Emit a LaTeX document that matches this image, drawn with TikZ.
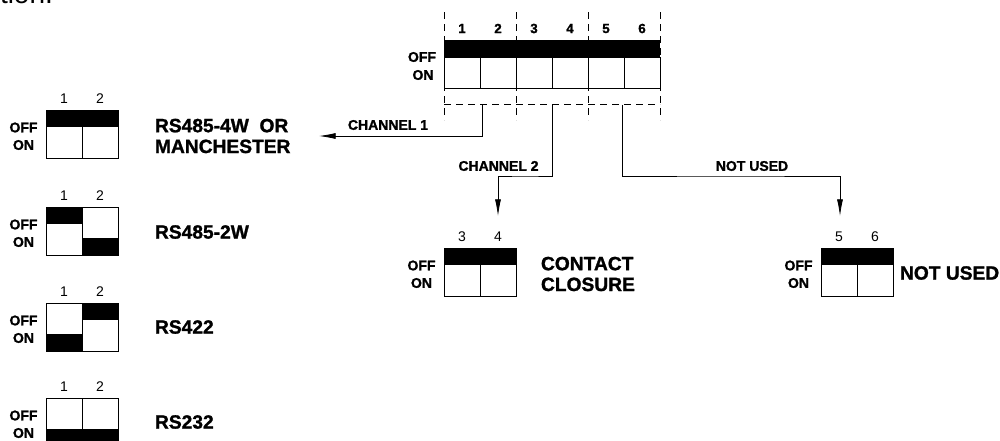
\documentclass[tikz,border=0pt]{standalone}
\usepackage{fontspec}
\setmainfont{Liberation Sans}[BoldFeatures={FakeBold=1.3}]
\usetikzlibrary{positioning,arrows.meta}

\begin{document}
\begin{tikzpicture}[
    x=0.75pt, y=-0.75pt,
    every node/.style={inner sep=0pt, outer sep=0pt},
    state/.style={font=\bfseries\fontsize{10.5}{12}\selectfont},
    num/.style={font=\fontsize{10.5}{12}\selectfont},
    topnum/.style={font=\bfseries\fontsize{10}{12}\selectfont},
    mode/.style={font=\bfseries\fontsize{14.4}{15.6}\selectfont, anchor=west},
    chan/.style={font=\bfseries\fontsize{10.5}{12}\selectfont},
    arrow/.style={-{Latex[length=12.5pt, width=4.5pt]}, line width=0.6pt},
    cell/.style={draw, line width=0.6pt, fill=white},
    lever/.style={fill=black},
    guide/.style={dashed, dash pattern=on 5pt off 4pt, line width=0.6pt}
]
\clip (0,0) rectangle (1000,440);
\useasboundingbox (0,0) rectangle (1000,440);
\node[anchor=base west, font=\fontsize{21}{24}\selectfont] (cut) at (0,3.5) {tion.};

% Main switch
\foreach \n [count=\i from 0] in {1,...,6} {
    \draw[cell] (444+36*\i,57) rectangle (480+36*\i,88.5);
    \node[topnum] (top\n) at (462+36*\i,28.5) {\n};
}
\fill[lever] (444,40) rectangle (660,57);
\node[state] (mainoff) at (422,57) {OFF};
\node[state] (mainon) at (423,75) {ON};
\foreach \x in {444,516,588,660}
    \draw[guide] (\x,12) -- (\x,120);
\draw[guide] (444,104.5) -- (660,104.5);

% Small switches: left x, top y, left lever, right lever, numbers, name
\foreach \xa/\ya/\la/\lb/\na/\nb/\w in {
    46/110/0/0/1/2/swa, 46/207/0/1/1/2/swb, 46/303/1/0/1/2/swc, 46/398/1/1/1/2/swd,
    444/248/0/0/3/4/swe, 821/248/0/0/5/6/swf} {
    \draw[cell] (\xa,\ya) rectangle ++(36,48);
    \draw[cell] (\xa+36,\ya) rectangle ++(36,48);
    \fill[lever] (\xa,\ya+\la*31) rectangle ++(36,17);
    \fill[lever] (\xa+36,\ya+\lb*31) rectangle ++(36,17);
    \node[num] (\w n1) at (\xa+18,\ya-11.5) {\na};
    \node[num] (\w n2) at (\xa+54,\ya-11.5) {\nb};
    \node[state] (\w off) at (\xa-22.5,\ya+17.5) {OFF};
    \node[state] (\w on) at (\xa-22.5,\ya+35) {ON};
}

% Labels
\node[mode, align=left] (rsfour) at (155,136) {RS485-4W\ \ OR\\MANCHESTER};
\node[mode] (rstwo) at (155,232) {RS485-2W};
\node[mode] (rsfourtwo) at (155,327) {RS422};
\node[mode] (rsthree) at (155,422) {RS232};
\node[mode, align=left] (contact) at (541,274) {CONTACT\\CLOSURE};
\node[mode] (notused) at (900,273) {NOT USED};

% Arrows
\coordinate (tapa) at (482,104.5);
\coordinate (tapb) at (552,104.5);
\coordinate (tapc) at (622,104.5);
\coordinate (enda) at (319,136);
\coordinate (endb) at (498,216);
\coordinate (endc) at (840,216);
\draw[arrow] (tapa) |- (enda);
\draw[arrow] (tapb) |- (525,176) -| (endb);
\draw[arrow] (tapc) |- (730,176) -| (endc);
\node[chan] (chanone) at (388,125) {CHANNEL 1};
\node[chan] (chantwo) at (498.5,166) {CHANNEL 2};
\node[chan] (channot) at (752,166) {NOT USED};
\end{tikzpicture}
\end{document}
